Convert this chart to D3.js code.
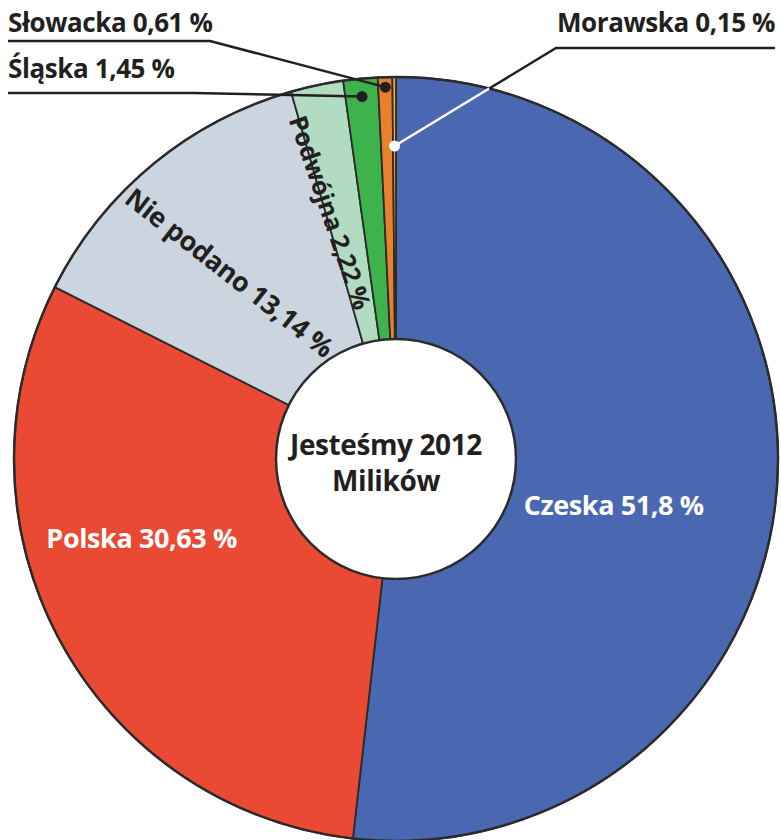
<!DOCTYPE html>
<html>
<head>
<meta charset="utf-8">
<script src="https://cdn.jsdelivr.net/npm/d3@7"></script>
<style>
  body { margin: 0; background: #fff; }
  svg text { font-family: "Open Sans", "Noto Sans", sans-serif; font-weight: 700; letter-spacing: -0.4px; }
</style>
</head>
<body>
<svg id="chart" width="781" height="840"></svg>
<script>
// shares of declared nationality, clockwise from 12 o'clock
var names = ['Czeska', 'Polska', 'Nie podano', 'Podwójna', 'Śląska', 'Słowacka', 'Morawska'];
var shares = [51.8, 30.63, 13.14, 2.22, 1.45, 0.61, 0.15];
var labels = ['Czeska 51,8 %', 'Polska 30,63 %', 'Nie podano 13,14 %', 'Podwójna 2,22 %', 'Śląska 1,45 %', 'Słowacka 0,61 %', 'Morawska 0,15 %'];
var centreLines = ['Jesteśmy 2012', 'Milików'];

var colors = ['#4a68b1', '#ea4a33', '#cbd5df', '#b2dcc1', '#3eb34b', '#e9802c', '#f6b131'];

var data = names.map(function(n, i) {
    return {name: n, value: shares[i], label: labels[i], color: colors[i]};
});

var cx = 396, cy = 459,
    radius = 382,
    holeRadius = 120,
    ink = '#231f20';

var svg = d3.select('#chart');
var g = svg.append('g').attr('transform', 'translate(' + cx + ',' + cy + ')');

var pie = d3.pie()
    .sort(null)
    .value(function(d) { return d.value; });

var arcs = pie(data);

var arc = d3.arc()
    .innerRadius(0)
    .outerRadius(radius);

g.selectAll('path.slice')
    .data(arcs)
    .enter()
    .append('path')
    .attr('class', 'slice')
    .attr('d', arc)
    .style('fill', function(d) { return d.data.color; })
    .style('stroke', '#2b2b2b')
    .style('stroke-width', 1.8)
    .style('stroke-linejoin', 'round');

// outer rim
g.append('circle')
    .attr('r', radius)
    .style('fill', 'none')
    .style('stroke', '#2b2b2b')
    .style('stroke-width', 2.5);

// polar helper: angle in radians clockwise from 12 o'clock
function polar(a, r) {
    return [r * Math.sin(a), -r * Math.cos(a)];
}
function mid(d) { return (d.startAngle + d.endAngle) / 2; }

// labels inside the larger slices
var inside = {
    'Czeska':  {r: 218, dx: 0, dy: 34, fill: '#fff', rotate: null, size: 27},
    'Polska':  {r: 255, dx: -30, dy: -42, fill: '#fff', rotate: null, size: 27},
    'Nie podano': {r: 252, dx: -6, dy: 8, fill: ink, rotate: 38, size: 27},
    'Podwójna': {r: 252, dx: -14, dy: 0, fill: ink, rotate: 71, size: 25}
};

arcs.forEach(function(d) {
    var cfg = inside[d.data.name];
    if (!cfg) return;
    var p = polar(mid(d), cfg.r);
    var x = p[0] + cfg.dx, y = p[1] + cfg.dy;
    g.append('text')
        .attr('transform', 'translate(' + x + ',' + y + ')' + (cfg.rotate !== null ? ' rotate(' + cfg.rotate + ')' : ''))
        .attr('text-anchor', 'middle')
        .attr('dy', '0.35em')
        .style('font-size', cfg.size + 'px')
        .style('fill', cfg.fill)
        .text(d.data.label);
});

// small slices get leader lines to labels outside the pie
var leaders = {
    'Śląska':   {r: 364, elbow: [193 - cx, 93 - cy], end: [8 - cx, 93 - cy], color: ink, lineInside: ink,
                 anchor: 'start', tx: 8 - cx, ty: 78 - cy},
    'Słowacka': {r: 372, elbow: [210 - cx, 41 - cy], end: [8 - cx, 41 - cy], color: ink, lineInside: ink,
                 anchor: 'start', tx: 8 - cx, ty: 32 - cy},
    'Morawska': {r: 313, elbow: [556 - cx, 48 - cy], end: [775 - cx, 48 - cy], color: ink, lineInside: '#fff',
                 anchor: 'end', tx: 775 - cx, ty: 32 - cy}
};

arcs.forEach(function(d) {
    var cfg = leaders[d.data.name];
    if (!cfg) return;
    var dot = polar(mid(d), cfg.r);

    if (cfg.lineInside !== cfg.color) {
        // split the diagonal where it crosses the rim
        var dxl = cfg.elbow[0] - dot[0], dyl = cfg.elbow[1] - dot[1];
        var a = dxl * dxl + dyl * dyl,
            b = 2 * (dot[0] * dxl + dot[1] * dyl),
            c = dot[0] * dot[0] + dot[1] * dot[1] - radius * radius;
        var t = (-b + Math.sqrt(b * b - 4 * a * c)) / (2 * a);
        var cross = [dot[0] + t * dxl, dot[1] + t * dyl];
        g.append('path')
            .attr('d', d3.line()([dot, cross]))
            .style('fill', 'none').style('stroke', cfg.lineInside).style('stroke-width', 2.5);
        g.append('path')
            .attr('d', d3.line()([cross, cfg.elbow, cfg.end]))
            .style('fill', 'none').style('stroke', cfg.color).style('stroke-width', 2.5);
    } else {
        g.append('path')
            .attr('d', d3.line()([dot, cfg.elbow, cfg.end]))
            .style('fill', 'none').style('stroke', cfg.color).style('stroke-width', 2.5);
    }

    g.append('circle')
        .attr('cx', dot[0]).attr('cy', dot[1])
        .attr('r', 5.5)
        .style('fill', cfg.lineInside);

    g.append('text')
        .attr('x', cfg.tx).attr('y', cfg.ty)
        .attr('text-anchor', cfg.anchor)
        .style('font-size', '26px')
        .style('fill', ink)
        .text(d.data.label);
});

// centre disc
g.append('circle')
    .attr('r', holeRadius)
    .style('fill', '#fff')
    .style('stroke', '#2b2b2b')
    .style('stroke-width', 2.5);

g.selectAll('text.centre')
    .data(centreLines)
    .enter()
    .append('text')
    .attr('class', 'centre')
    .attr('x', -10)
    .attr('y', function(d, i) { return -4 + i * 36; })
    .attr('text-anchor', 'middle')
    .style('font-size', '28px')
    .style('fill', ink)
    .text(function(d) { return d; });
</script>
</body>
</html>
